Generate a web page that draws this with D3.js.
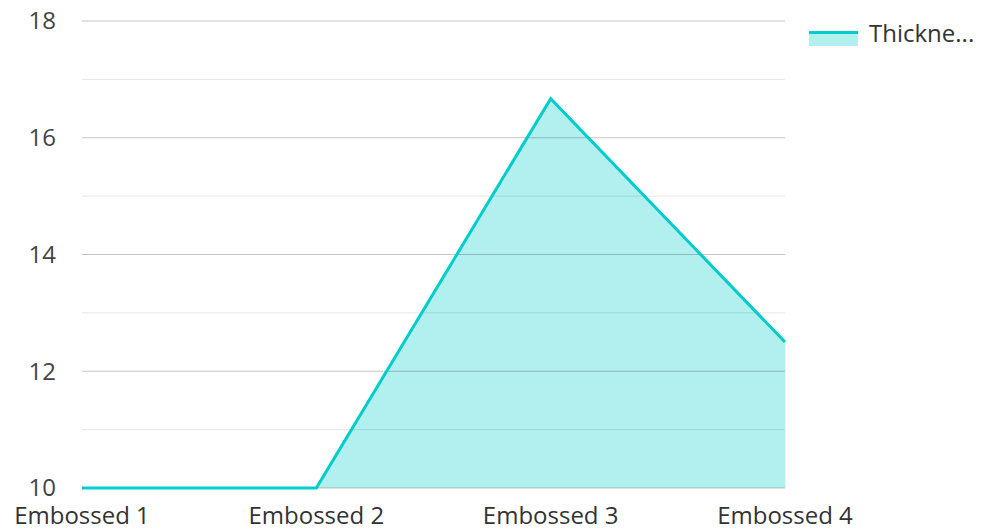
<!DOCTYPE html>
<html>
<head>
<meta charset="utf-8">
<script src="https://cdn.jsdelivr.net/npm/d3@7"></script>
<style>
  body { margin: 0; background: #fff; }
  text { font-family: "Open Sans", sans-serif; }
</style>
</head>
<body>
<svg id="chart" width="981" height="529"></svg>
<script>
var categories = ["Embossed 1", "Embossed 2", "Embossed 3", "Embossed 4"];
var thickness = [10, 10, 16.67, 12.5];
var yTicks = [10, 12, 14, 16, 18];
var yMinorTicks = [11, 13, 15, 17];
var seriesName = "Thickne...";

var svg = d3.select("#chart");
var margin = {top: 21, right: 196, bottom: 41, left: 82};
var width = 981 - margin.left - margin.right,
    height = 529 - margin.top - margin.bottom;
var g = svg.append("g").attr("transform", "translate(" + margin.left + "," + margin.top + ")");

var x = d3.scalePoint().domain(categories).range([0, width]);
var y = d3.scaleLinear().domain([10, 18]).range([height, 0]);

var data = categories.map(function(c, i) { return {cat: c, v: thickness[i]}; });

// area under the line
g.append("path").datum(data)
  .attr("fill", "#00cccc").attr("fill-opacity", 0.3)
  .attr("d", d3.area().x(function(d) { return x(d.cat); }).y0(height).y1(function(d) { return y(d.v); }));

// grid, drawn over the fill
g.append("g").selectAll("line").data(yMinorTicks).enter().append("line")
  .attr("x1", 0).attr("x2", width)
  .attr("y1", function(d) { return y(d); }).attr("y2", function(d) { return y(d); })
  .attr("stroke", "#000").attr("stroke-opacity", 0.1).attr("stroke-width", 1);
g.append("g").selectAll("line").data(yTicks).enter().append("line")
  .attr("x1", 0).attr("x2", width)
  .attr("y1", function(d) { return y(d); }).attr("y2", function(d) { return y(d); })
  .attr("stroke", "#000").attr("stroke-opacity", 0.23).attr("stroke-width", 1);

g.append("path").datum(data)
  .attr("fill", "none").attr("stroke", "#00cccc").attr("stroke-width", 3)
  .attr("stroke-linejoin", "miter")
  .attr("d", d3.line().x(function(d) { return x(d.cat); }).y(function(d) { return y(d.v); }));

// y axis labels
g.append("g").selectAll("text").data(yTicks).enter().append("text")
  .attr("x", -26).attr("y", function(d) { return y(d); })
  .attr("dy", "0.35em").attr("text-anchor", "end")
  .attr("font-size", 24).attr("fill", "#444")
  .text(function(d) { return d; });

// x axis labels
g.append("g").selectAll("text").data(categories).enter().append("text")
  .attr("x", function(d) { return x(d); }).attr("y", height + 36)
  .attr("text-anchor", "middle")
  .attr("font-size", 24).attr("fill", "#333")
  .text(function(d) { return d; });

// legend
var lg = svg.append("g").attr("transform", "translate(809,31)");
lg.append("rect").attr("x", 0).attr("y", 1).attr("width", 49).attr("height", 14).attr("fill", "#00cccc").attr("fill-opacity", 0.3);
lg.append("rect").attr("x", 0).attr("y", 0).attr("width", 49).attr("height", 3).attr("fill", "#00cccc");
lg.append("text").attr("x", 60).attr("y", 3).attr("dy", "0.35em")
  .attr("font-size", 24).attr("fill", "#333").text(seriesName);
</script>
</body>
</html>
